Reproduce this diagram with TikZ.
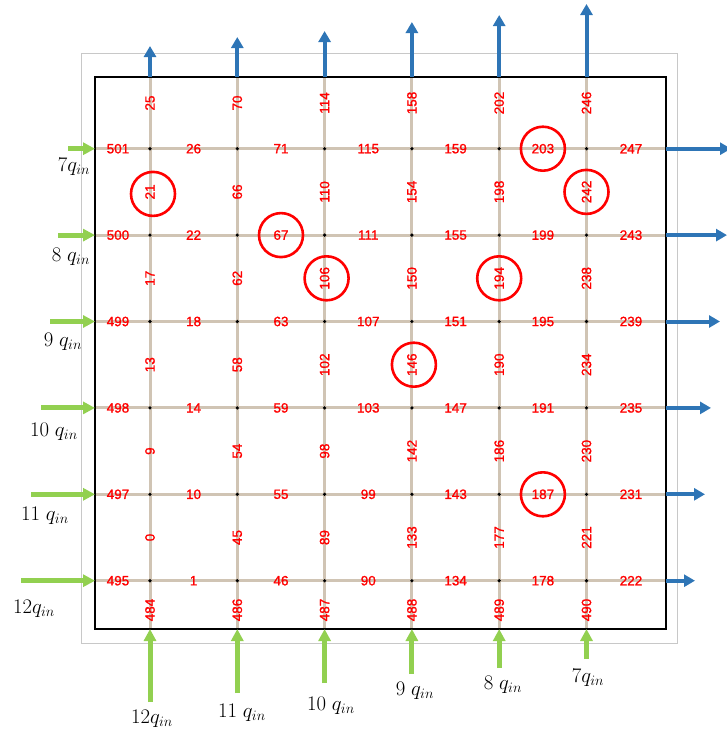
\documentclass[tikz,border=0pt]{standalone}
\usepackage{fontspec}
\newfontfamily\labelfont[FakeBold=1.3]{Liberation Sans}
\usetikzlibrary{arrows.meta}
\definecolor{gridtan}{HTML}{D0C4B4}
\definecolor{flowblue}{HTML}{2E75B6}
\definecolor{flowgreen}{HTML}{92D050}
\definecolor{framegray}{HTML}{C8C8C8}

\begin{document}
\begin{tikzpicture}[x=1pt,y=-1pt,
  gridline/.style={draw=gridtan, line width=3pt},
  junction/.style={circle, fill=black, inner sep=0pt, minimum size=3.6pt},
  hlabel/.style={text=red, font=\labelfont\fontsize{13.5}{13.5}\selectfont, inner sep=1pt},
  vlabel/.style={hlabel, rotate=90},
  marked/.style={draw=red, line width=2.6pt, circle, minimum size=44pt, inner sep=0pt},
  outflow/.style={draw=flowblue, line width=4pt, -{Triangle[width=12pt,length=11pt]}},
  inflow/.style={draw=flowgreen, line width=5pt, -{Triangle[width=12pt,length=12pt]}},
  qlabel/.style={font=\fontsize{17.28}{17.28}\selectfont, inner sep=0pt, scale=1.2, transform shape},
]
\useasboundingbox (0,0) rectangle (727,734);

% outer frame and domain border
\draw[framegray, line width=0.8pt] (81,53) rectangle (677,643);

% grid coordinates: columns i, rows j
\foreach \x [count=\i] in {150,237.3,324.6,411.9,499.2,586.5} {
  \coordinate (t-\i) at (\x,77);
  \coordinate (b-\i) at (\x,629);
}
\foreach \y [count=\j] in {148.7,235.1,321.5,407.9,494.3,580.7} {
  \coordinate (l-\j) at (95,\y);
  \coordinate (r-\j) at (666,\y);
}

% grid lines
\foreach \i in {1,...,6} \draw[gridline] (t-\i) -- (b-\i);
\foreach \j in {1,...,6} \draw[gridline] (l-\j) -- (r-\j);

\draw[black, line width=1.3pt] (95,77) rectangle (666,629);

% junction dots
\foreach \i in {1,...,6}
  \foreach \j in {1,...,6}
    \node[junction] (n-\i-\j) at (t-\i |- l-\j) {};

% horizontal edge labels (row j, position k)
\foreach \row [count=\j] in {
  {501,26,71,115,159,203,247},
  {500,22,67,111,155,199,243},
  {499,18,63,107,151,195,239},
  {498,14,59,103,147,191,235},
  {497,10,55,99,143,187,231},
  {495,1,46,90,134,178,222}} {
  \foreach \lab [count=\k] in \row {
    \pgfmathsetmacro{\lx}{{118,193.6,281,368.3,455.6,542.9,631}[\k-1]}
    \node[hlabel] (h-\j-\k) at (\lx, 0 |- l-\j) {\lab};
  }
}

% vertical edge labels (column i, position k)
\foreach \col [count=\i] in {
  {25,21,17,13,9,0,484},
  {70,66,62,58,54,45,486},
  {114,110,106,102,98,89,487},
  {158,154,150,146,142,133,488},
  {202,198,194,190,186,177,489},
  {246,242,238,234,230,221,490}} {
  \foreach \lab [count=\k] in \col {
    \pgfmathsetmacro{\ly}{{103,191.9,278.3,364.7,451.1,537.5,610}[\k-1]}
    \node[vlabel] (v-\i-\k) at (t-\i |- 0,\ly) {\lab};
  }
}

% highlighted edges
\node[marked] at ([shift={(3,2)}]v-1-2) {};
\node[marked] at (h-2-3) {};
\node[marked] at ([shift={(2,0)}]v-3-3) {};
\node[marked] at ([shift={(2,0)}]v-4-4) {};
\node[marked] at (v-5-3) {};
\node[marked] at (h-1-6) {};
\node[marked] at (v-6-2) {};
\node[marked] at (h-5-6) {};

% outflow arrows at the top
\foreach \tip [count=\i] in {46,37,31,22,15,4} {
  \coordinate (to-\i) at (t-\i |- 0,\tip);
  \draw[outflow] (t-\i) -- (to-\i);
}
% outflow arrows on the right
\foreach \tip [count=\j] in {731,727,720,711,705,695} {
  \coordinate (ro-\j) at (\tip,0 |- l-\j);
  \draw[outflow] (r-\j) -- (ro-\j);
}
% inflow arrows on the left
\foreach \st [count=\j] in {68,58,50,41,31,21} {
  \coordinate (li-\j) at (\st,0 |- l-\j);
  \draw[inflow] (li-\j) -- (l-\j);
}
% inflow arrows at the bottom
\foreach \st [count=\i] in {702,693,683,674,668,659} {
  \coordinate (bi-\i) at (b-\i |- 0,\st);
  \draw[inflow] (bi-\i) -- (b-\i);
}

% inflow labels, left side
\node[qlabel] (ql-1) at (74,167) {$7q_{in}$};
\node[qlabel] (ql-2) at (71,257) {$8\;q_{in}$};
\node[qlabel] (ql-3) at (63,342) {$9\;q_{in}$};
\node[qlabel] (ql-4) at (54,432) {$10\;q_{in}$};
\node[qlabel] (ql-5) at (45,516) {$11\;q_{in}$};
\node[qlabel] (ql-6) at (34,609) {$12q_{in}$};
% inflow labels, bottom side
\node[qlabel] (qb-1) at (152,719) {$12q_{in}$};
\node[qlabel] (qb-2) at (242,713) {$11\;q_{in}$};
\node[qlabel] (qb-3) at (331,706) {$10\;q_{in}$};
\node[qlabel] (qb-4) at (415,691) {$9\;q_{in}$};
\node[qlabel] (qb-5) at (503,685) {$8\;q_{in}$};
\node[qlabel] (qb-6) at (588,678) {$7q_{in}$};
\end{tikzpicture}
\end{document}
